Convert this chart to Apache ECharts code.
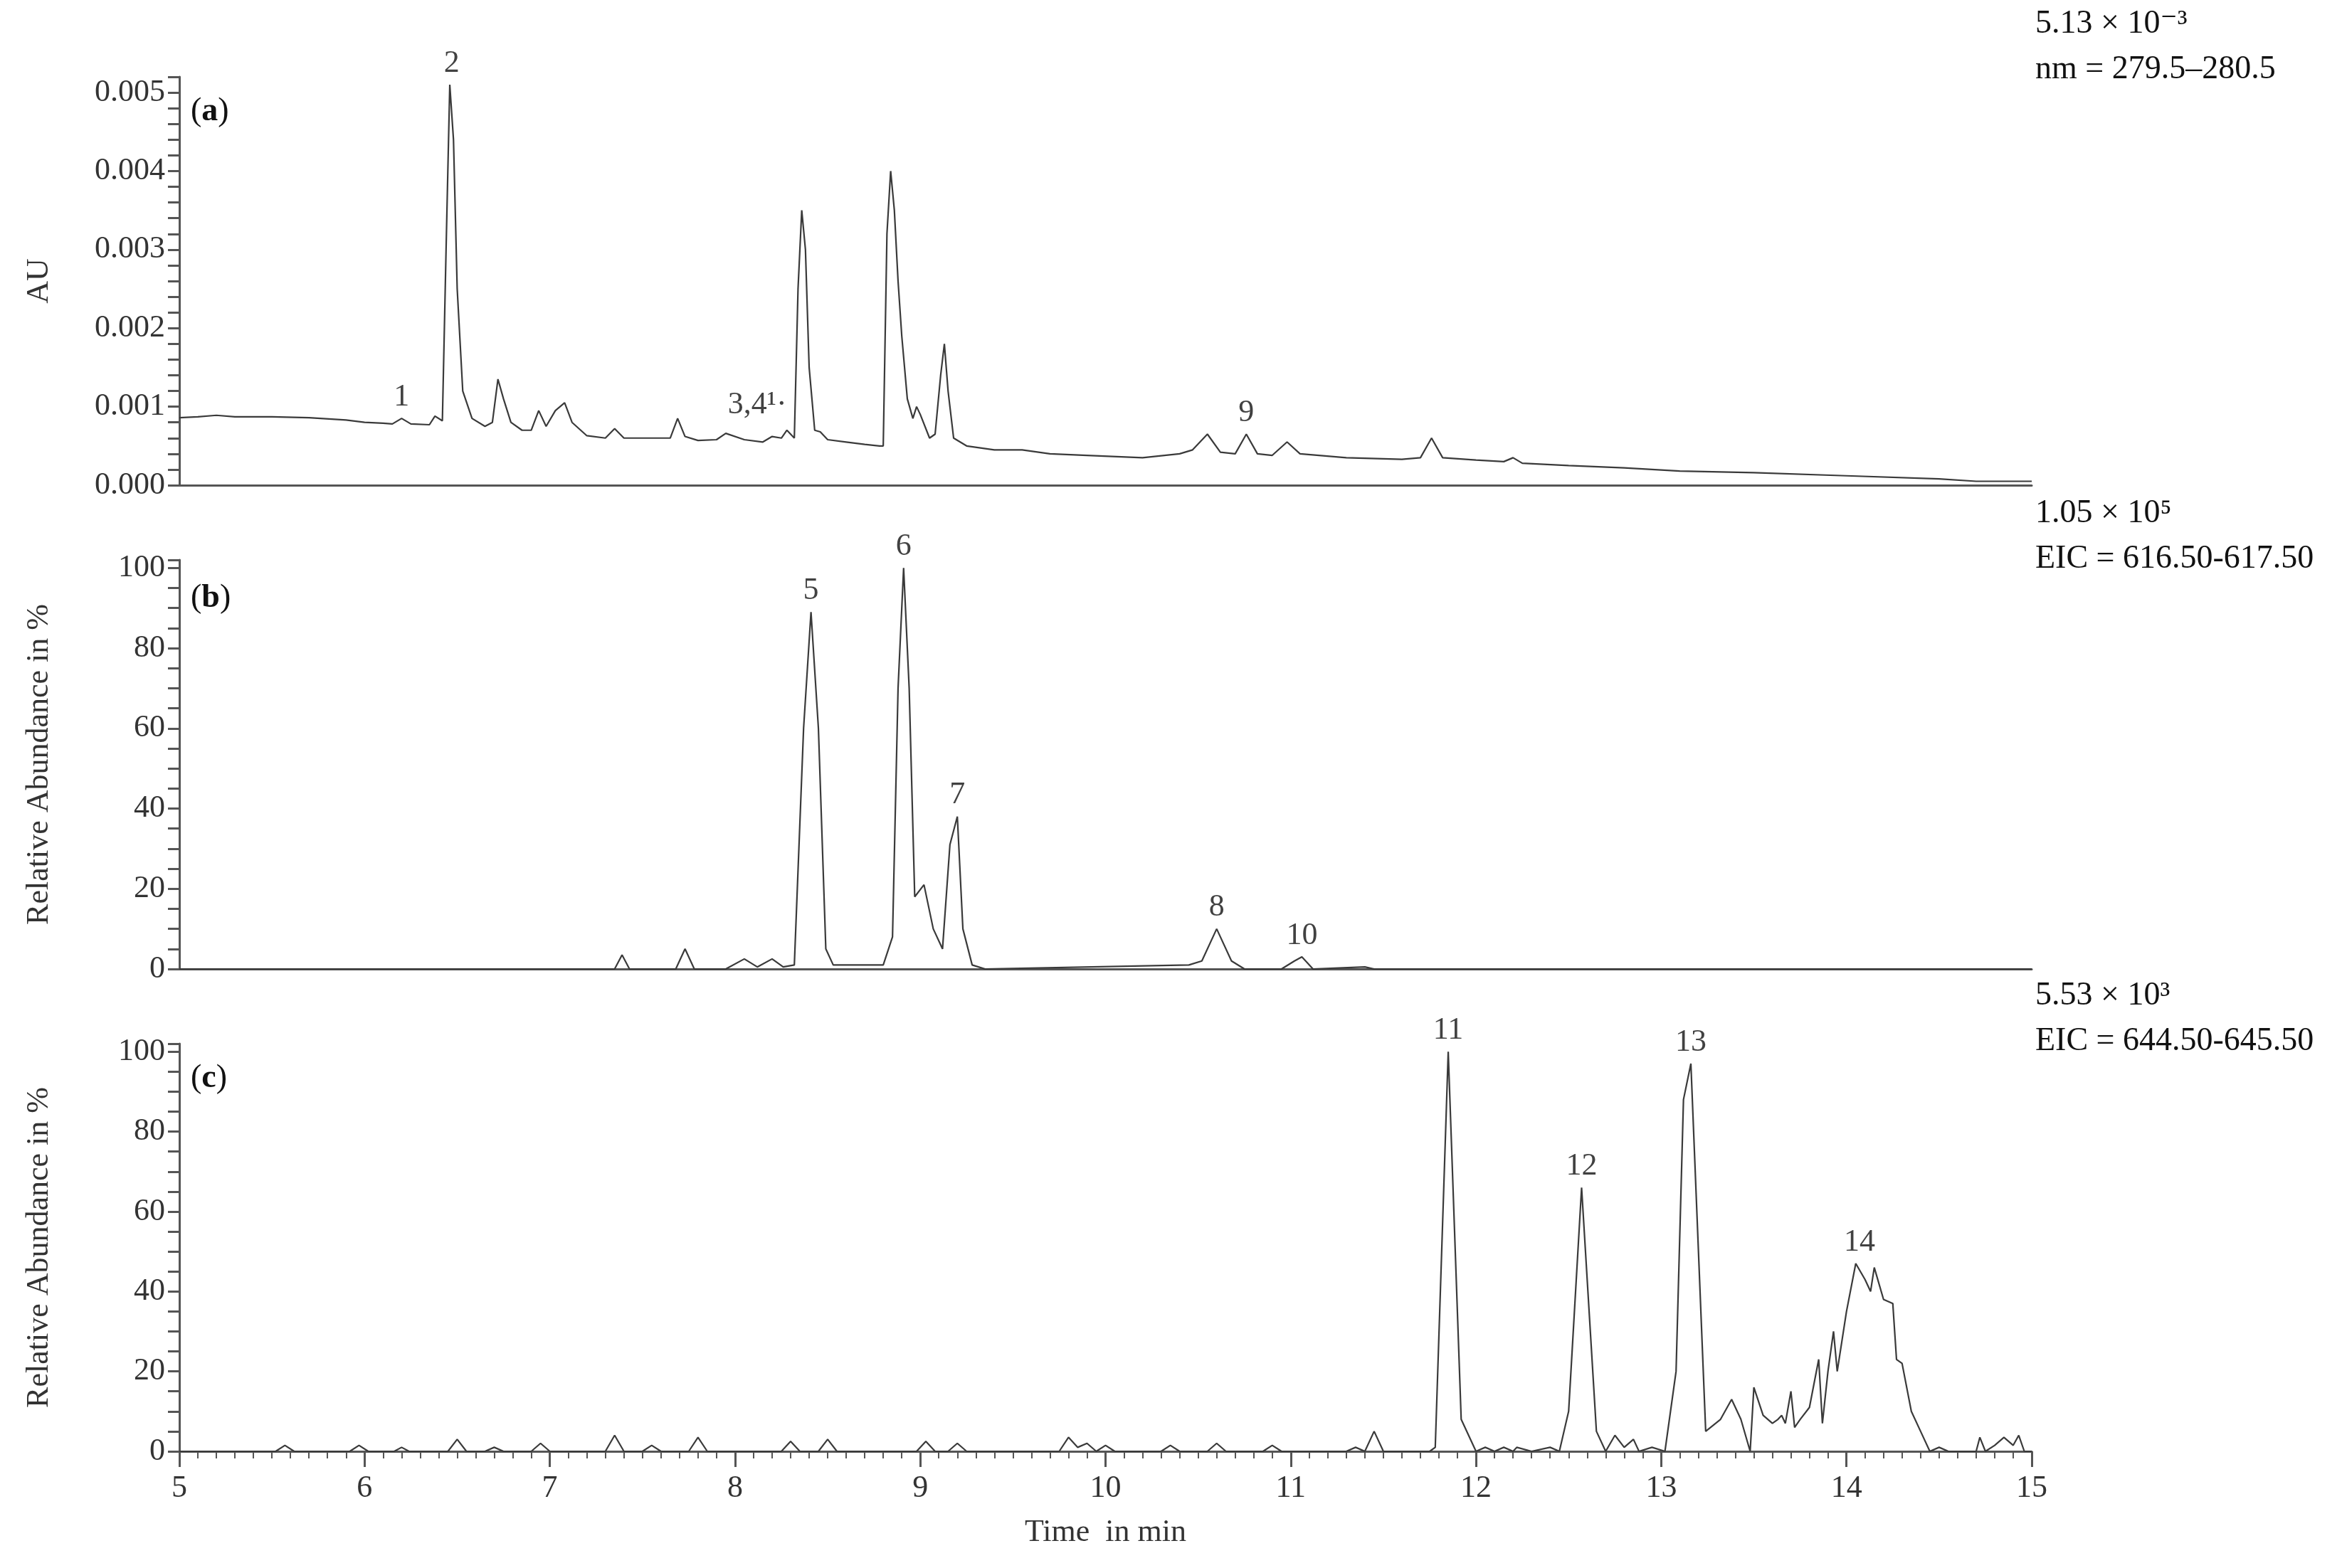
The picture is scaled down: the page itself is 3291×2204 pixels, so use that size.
<!DOCTYPE html>
<html lang="en">
<head>
<meta charset="UTF-8">
<title>Chromatograms</title>
<script src="https://cdn.jsdelivr.net/npm/echarts@6/dist/echarts.min.js"></script>
<style>
  html, body { margin: 0; background: #fff; }
  #chart { width: 3291px; height: 2204px; }
</style>
</head>
<body>
<div id="chart"></div>
<script>
// (a) UV trace, AU
var uvTime = [5.00,5.1,5.2,5.3,5.5,5.7,5.9,6.0,6.1,6.15,6.2,6.25,6.35,6.38,6.42,6.44,6.46,6.48,6.50,6.53,6.58,6.65,6.69,6.72,6.75,6.79,6.85,6.9,6.94,6.98,7.03,7.08,7.12,7.2,7.3,7.35,7.4,7.5,7.6,7.65,7.69,7.73,7.8,7.9,7.95,8.05,8.15,8.2,8.25,8.28,8.32,8.34,8.36,8.38,8.40,8.43,8.46,8.5,8.6,8.7,8.78,8.8,8.82,8.84,8.86,8.88,8.9,8.93,8.96,8.98,9.0,9.05,9.08,9.11,9.13,9.15,9.18,9.25,9.4,9.55,9.7,9.9,10.2,10.4,10.47,10.55,10.62,10.7,10.76,10.82,10.9,10.98,11.05,11.3,11.6,11.7,11.76,11.82,12.0,12.15,12.2,12.25,12.5,12.8,13.1,13.5,14.0,14.5,14.7,15];
var uvAU = [.00086,.00087,.00089,.00087,.00087,.00086,.00083,.00080,.00079,.00078,.00085,.00078,.00077,.00088,.00082,.0030,.0051,.0044,.0025,.0012,.00085,.00075,.0008,.00135,.0011,.0008,.0007,.0007,.00095,.00075,.00095,.00105,.0008,.00063,.0006,.00072,.0006,.0006,.0006,.0006,.00085,.00062,.00057,.00058,.00066,.00058,.00055,.00062,.0006,.0007,.0006,.0025,.0035,.003,.0015,.0007,.00068,.00058,.00055,.00052,.0005,.0005,.0032,.0040,.0035,.0026,.0019,.0011,.00085,.001,.0009,.0006,.00065,.0014,.0018,.0012,.0006,.0005,.00045,.00045,.0004,.00038,.00035,.0004,.00045,.00065,.00042,.0004,.00065,.0004,.00038,.00055,.0004,.00035,.00033,.00035,.0006,.00035,.00032,.0003,.00035,.00028,.00025,.00022,.00018,.00016,.00012,.00008,.00005,.00005];
var uvPeakTime = [6.2, 6.47, 8.12, 10.76];
var uvPeakVal = [.00085, .0051, .00075, .00065];
var uvPeakText = ['1', '2', '3,4¹·', '9'];

// (b) EIC 616.50-617.50, %
var eicBTime = [5,7.35,7.39,7.43,7.68,7.73,7.78,7.95,8.05,8.12,8.2,8.26,8.32,8.37,8.41,8.45,8.49,8.53,8.8,8.85,8.88,8.91,8.94,8.97,9.02,9.07,9.12,9.16,9.2,9.23,9.28,9.35,10.45,10.52,10.6,10.68,10.75,10.95,11.02,11.06,11.12,11.4,11.45,15];
var eicBPct = [0,0,3.5,0,0,5,0,0,2.5,0.5,2.5,0.5,1,60,89,60,5,1,1,8,70,100,70,18,21,10,5,31,38,10,1,0,1,2,10,2,0,0,2,3,0,0.5,0,0];
var eicBPeakTime = [8.41, 8.91, 9.2, 10.6, 11.06];
var eicBPeakVal = [89, 100, 38, 10, 3];
var eicBPeakText = ['5', '6', '7', '8', '10'];

// (c) EIC 644.50-645.50, %
var eicCTime = [5,5.52,5.57,5.62,5.92,5.97,6.02,6.16,6.2,6.24,6.45,6.5,6.55,6.65,6.7,6.75,6.9,6.95,7.0,7.3,7.35,7.4,7.5,7.55,7.6,7.75,7.8,7.85,8.25,8.3,8.35,8.45,8.5,8.55,8.98,9.03,9.08,9.15,9.2,9.25,9.75,9.8,9.85,9.9,9.95,10.0,10.05,10.3,10.35,10.4,10.55,10.6,10.65,10.85,10.9,10.95,11.3,11.35,11.4,11.45,11.5,11.75,11.78,11.85,11.92,12.0,12.05,12.1,12.15,12.2,12.22,12.3,12.4,12.45,12.5,12.57,12.65,12.7,12.75,12.8,12.85,12.88,12.95,13.02,13.08,13.12,13.16,13.24,13.32,13.38,13.43,13.48,13.5,13.55,13.6,13.63,13.65,13.67,13.7,13.72,13.75,13.8,13.85,13.87,13.9,13.93,13.95,14.0,14.05,14.1,14.13,14.15,14.2,14.25,14.27,14.3,14.35,14.4,14.45,14.5,14.55,14.7,14.72,14.75,14.8,14.85,14.9,14.93,14.96,15];
var eicCPct = [0,0,1.5,0,0,1.5,0,0,1,0,0,3,0,0,1,0,0,2,0,0,4,0,0,1.5,0,0,3.5,0,0,2.5,0,0,3,0,0,2.5,0,0,2,0,0,3.5,1,2,0,1.5,0,0,1.5,0,0,2,0,0,1.5,0,0,1,0,5,0,0,1,100,8,0,1,0,1,0,1,0,1,0,10,66,5,0,4,1,3,0,1,0,20,88,97,5,8,13,8,0,16,9,7,8,9,7,15,6,8,11,23,7,20,30,20,35,47,43,40,46,38,37,23,22,10,5,0,1,0,0,3.5,0,1.5,3.5,1.5,4,0,0];
var eicCPeakTime = [11.85, 12.57, 13.16, 14.07];
var eicCPeakVal = [100, 66, 97, 47];
var eicCPeakText = ['11', '12', '13', '14'];

function zip(a, b) { return a.map(function (t, i) { return [t, b[i]]; }); }
function zip3(a, b, c) { return a.map(function (t, i) { return [t, b[i], c[i]]; }); }

var serif = '"Liberation Serif", "DejaVu Serif", serif';
var ink = '#333';
var lineStyle = { color: '#3a3a3a', width: 2.2 };

var grids = [
  { left: 252, right: 436, top: 108, height: 574 },
  { left: 252, right: 436, top: 787, height: 575 },
  { left: 252, right: 436, top: 1467, height: 573 }
];

function xAxis(i, showLabels) {
  return {
    gridIndex: i, type: 'value', min: 5, max: 15, interval: 1,
    axisLine: { show: true, lineStyle: { color: '#555', width: 3 } },
    axisTick: { show: showLabels, length: 22, lineStyle: { color: '#555', width: 3 } },
    minorTick: { show: showLabels, splitNumber: 10, length: 10, lineStyle: { color: '#555', width: 2 } },
    axisLabel: { show: showLabels, fontFamily: serif, fontSize: 44, color: ink, margin: 30 },
    splitLine: { show: false },
    name: showLabels ? 'Time  in min' : '', nameLocation: 'middle', nameGap: 92,
    nameTextStyle: { fontFamily: serif, fontSize: 44, color: ink }
  };
}

function yAxis(i, max, interval, fmt, title) {
  return {
    gridIndex: i, type: 'value', min: 0, max: max, interval: interval,
    axisLine: { show: true, lineStyle: { color: '#555', width: 3 } },
    axisTick: { show: true, length: 16, lineStyle: { color: '#555', width: 3 } },
    minorTick: { show: true, splitNumber: i === 0 ? 5 : 4, length: 16, lineStyle: { color: '#555', width: 3 } },
    axisLabel: { fontFamily: serif, fontSize: 44, color: ink, margin: 20, showMaxLabel: false, formatter: fmt },
    splitLine: { show: false },
    name: title, nameLocation: 'middle', nameGap: i === 0 ? 175 : 175,
    nameTextStyle: { fontFamily: serif, fontSize: 44, color: ink }
  };
}

function peakSeries(i, data) {
  return {
    type: 'scatter', xAxisIndex: i, yAxisIndex: i, data: data,
    symbolSize: 0, silent: true,
    label: { show: true, position: 'top', distance: 8, formatter: function (p) { return p.data[2]; },
             fontFamily: serif, fontSize: 44, color: '#111' }
  };
}

function lineSeries(i, data) {
  return { type: 'line', xAxisIndex: i, yAxisIndex: i, data: data, showSymbol: false,
           lineStyle: lineStyle, animation: false };
}

function panelTag(letter, top) {
  return {
    type: 'text', left: 268, top: top,
    style: {
      text: '{n|(}{b|' + letter + '}{n|)}',
      rich: {
        n: { fontFamily: serif, fontSize: 46, fill: '#111' },
        b: { fontFamily: serif, fontSize: 46, fontWeight: 'bold', fill: '#111' }
      }
    }
  };
}

function note(top, text) {
  return { type: 'text', left: 2860, top: top,
           style: { text: text, font: '46px ' + serif, fill: '#111', lineHeight: 64 } };
}

var chart = echarts.init(document.getElementById('chart'));

chart.setOption({
  animation: false,
  backgroundColor: '#fff',
  grid: grids,
  xAxis: [xAxis(0, false), xAxis(1, false), xAxis(2, true)],
  yAxis: [
    yAxis(0, 0.0052, 0.001, function (v) { return v.toFixed(3); }, 'AU'),
    yAxis(1, 102, 20, function (v) { return v; }, 'Relative Abundance in %'),
    yAxis(2, 102, 20, function (v) { return v; }, 'Relative Abundance in %')
  ],
  series: [
    lineSeries(0, zip(uvTime, uvAU)),
    lineSeries(1, zip(eicBTime, eicBPct)),
    lineSeries(2, zip(eicCTime, eicCPct)),
    peakSeries(0, zip3(uvPeakTime, uvPeakVal, uvPeakText)),
    peakSeries(1, zip3(eicBPeakTime, eicBPeakVal, eicBPeakText)),
    peakSeries(2, zip3(eicCPeakTime, eicCPeakVal, eicCPeakText))
  ],
  graphic: [
    panelTag('a', 134),
    panelTag('b', 818),
    panelTag('c', 1493),
    note(2, '5.13 × 10⁻³\nnm = 279.5–280.5'),
    note(690, '1.05 × 10⁵\nEIC = 616.50-617.50'),
    note(1368, '5.53 × 10³\nEIC = 644.50-645.50')
  ]
});
</script>
</body>
</html>
